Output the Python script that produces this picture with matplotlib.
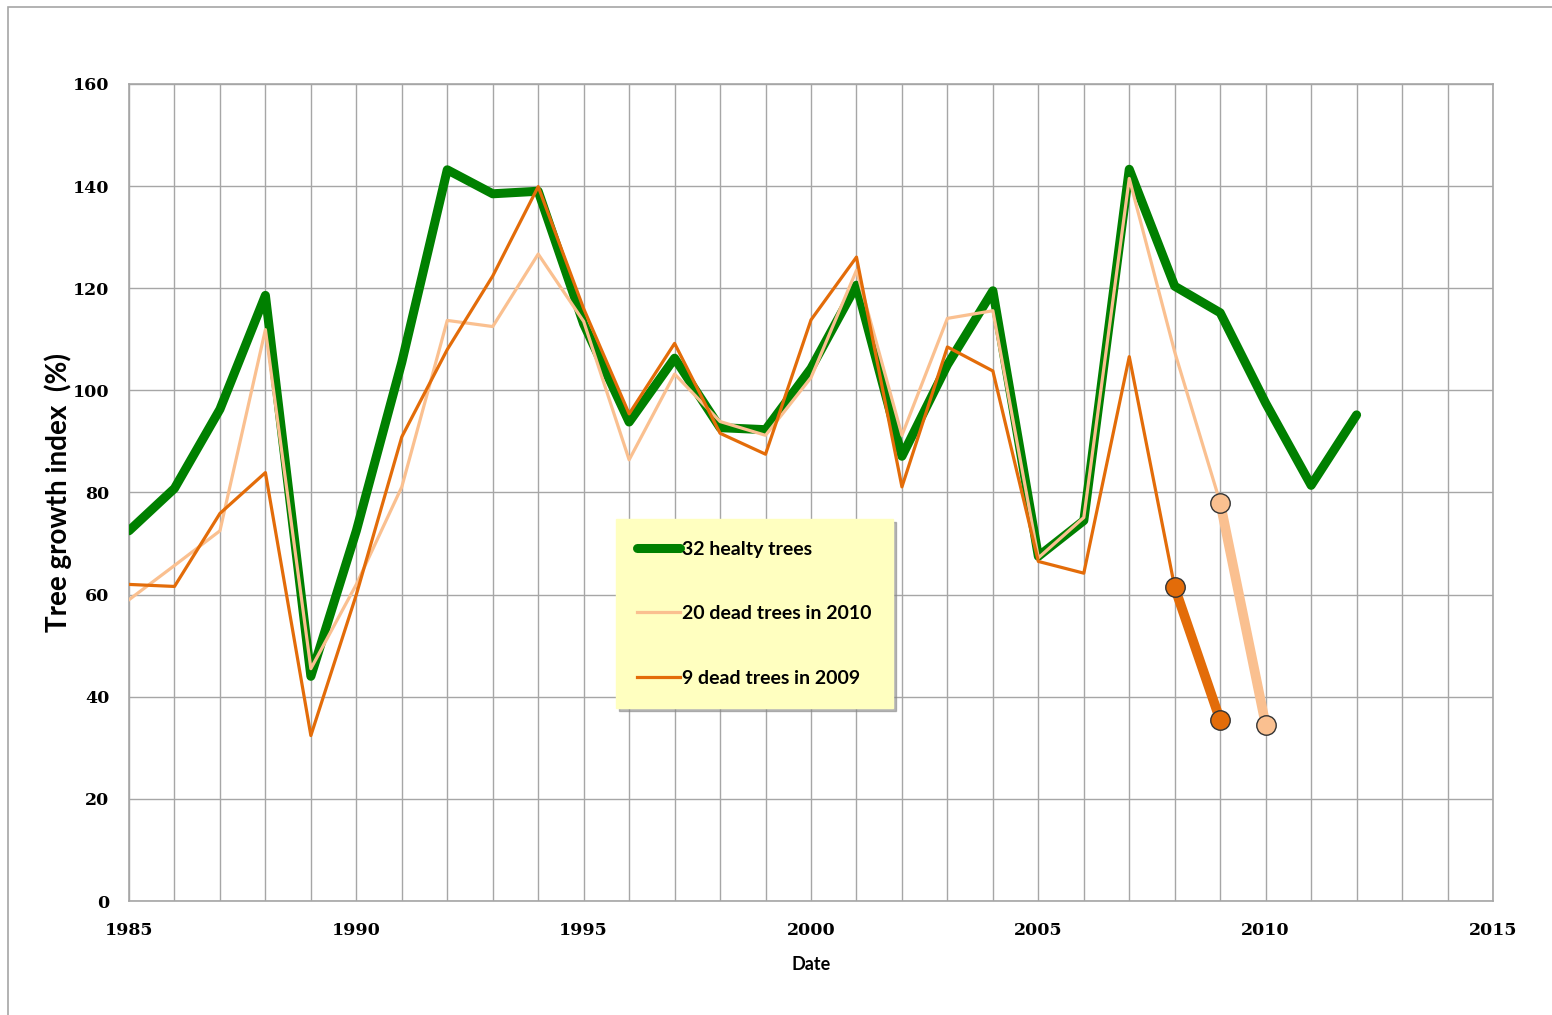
import matplotlib
matplotlib.use("Agg")
import matplotlib.pyplot as plt
from matplotlib.patches import Rectangle

# growth index per year (%), read per series
years_healthy = [1985, 1986, 1987, 1988, 1989, 1990, 1991, 1992, 1993, 1994,
                 1995, 1996, 1997, 1998, 1999, 2000, 2001, 2002, 2003, 2004,
                 2005, 2006, 2007, 2008, 2009, 2010, 2011, 2012]
healthy = [72.5, 80.8, 96.3, 118.6, 44.0, 72.5, 105.5, 143.2, 138.5, 139.0,
           113.0, 93.8, 106.3, 92.7, 92.3, 104.3, 120.6, 87.1, 105.0, 119.5,
           67.5, 74.5, 143.3, 120.4, 115.2, 97.5, 81.4, 95.2]

years_dead2010 = [1985, 1986, 1987, 1988, 1989, 1990, 1991, 1992, 1993, 1994,
                  1995, 1996, 1997, 1998, 1999, 2000, 2001, 2002, 2003, 2004,
                  2005, 2006, 2007, 2008, 2009]
dead2010 = [59.0, 65.7, 72.5, 111.9, 45.5, 62.0, 81.1, 113.7, 112.5, 126.7,
            113.5, 86.4, 103.2, 93.9, 91.2, 102.5, 123.5, 91.2, 114.1, 115.6,
            67.2, 75.1, 141.5, 107.5, 78.0]
last_years_dead2010 = [2009, 2010]
last_dead2010 = [78.0, 34.5]

years_dead2009 = [1985, 1986, 1987, 1988, 1989, 1990, 1991, 1992, 1993, 1994,
                  1995, 1996, 1997, 1998, 1999, 2000, 2001, 2002, 2003, 2004,
                  2005, 2006, 2007, 2008]
dead2009 = [62.0, 61.6, 75.9, 83.9, 32.4, 60.0, 90.9, 108.0, 122.4, 139.9,
            116.0, 95.4, 109.2, 91.6, 87.5, 113.8, 126.1, 81.1, 108.5, 103.8,
            66.5, 64.2, 106.6, 61.4]
last_years_dead2009 = [2008, 2009]
last_dead2009 = [61.4, 35.4]

labels = ["32 healty trees", "20 dead trees in 2010", "9 dead trees in 2009"]

GREEN = "#008000"
PEACH = "#FAC090"
ORANGE = "#E36C09"

fig = plt.figure(figsize=(15.52, 10.15), dpi=100)
fig.patches.append(Rectangle((8 / 1552, -0.01), 1.1, 1 - 7 / 1015 + 0.01,
                             transform=fig.transFigure, fill=False,
                             edgecolor="#A6A6A6", linewidth=1.2))

ax = fig.add_axes([129 / 1552, 1 - 901 / 1015, 1364 / 1552, 817 / 1015])

ax.plot(years_healthy, healthy, color=GREEN, lw=6.5, label=labels[0],
        solid_joinstyle="round", solid_capstyle="round", zorder=3)
ax.plot(years_dead2010, dead2010, color=PEACH, lw=2.3, label=labels[1], zorder=4)
ax.plot(years_dead2009, dead2009, color=ORANGE, lw=2.3, label=labels[2], zorder=5)

# final drop before dying, drawn heavier with end markers
ax.plot(last_years_dead2010, last_dead2010, color=PEACH, lw=7, marker="o",
        ms=14, mfc=PEACH, mec="#333333", mew=1.0, zorder=6)
ax.plot(last_years_dead2009, last_dead2009, color=ORANGE, lw=7, marker="o",
        ms=14, mfc=ORANGE, mec="#333333", mew=1.0, zorder=7)

ax.set_xlim(1985, 2015)
ax.set_ylim(0, 160)
ax.set_xticks(range(1985, 2016, 5))
ax.set_xticks(range(1985, 2016), minor=True)
ax.set_yticks(range(0, 161, 20))
ax.grid(True, which="both", axis="x", color="#A6A6A6", lw=1.0)
ax.grid(True, which="major", axis="y", color="#A6A6A6", lw=1.0)
ax.set_axisbelow(True)
for s in ax.spines.values():
    s.set_color("#A6A6A6")
    s.set_linewidth(1.2)
ax.tick_params(which="both", length=0)
ax.tick_params(axis="x", pad=15)
ax.tick_params(axis="y", pad=14)

for t in ax.get_xticklabels() + ax.get_yticklabels():
    t.set_fontfamily("DejaVu Serif")
    t.set_fontweight("bold")
    t.set_fontsize(12.5)

ax.set_xlabel("Date", family="Lato", weight="bold", size=13, labelpad=12)
ax.set_ylabel("Tree growth index  (%)", family="Lato", weight="bold", size=20,
              labelpad=1)

leg = ax.legend(loc="lower left", bbox_to_anchor=(0.357, 0.236), frameon=True,
                fancybox=False, shadow={"color": "#888888", "alpha": 0.6},
                facecolor="#FFFFC0", edgecolor="#FFFFC0", framealpha=1,
                handlelength=2.2, handletextpad=0.1, labelspacing=2.45,
                borderpad=1.1, borderaxespad=0,
                prop=dict(family="Lato", weight="bold", size=14))
leg.set_zorder(10)

fig.savefig("out.png", dpi=100, facecolor="white")
